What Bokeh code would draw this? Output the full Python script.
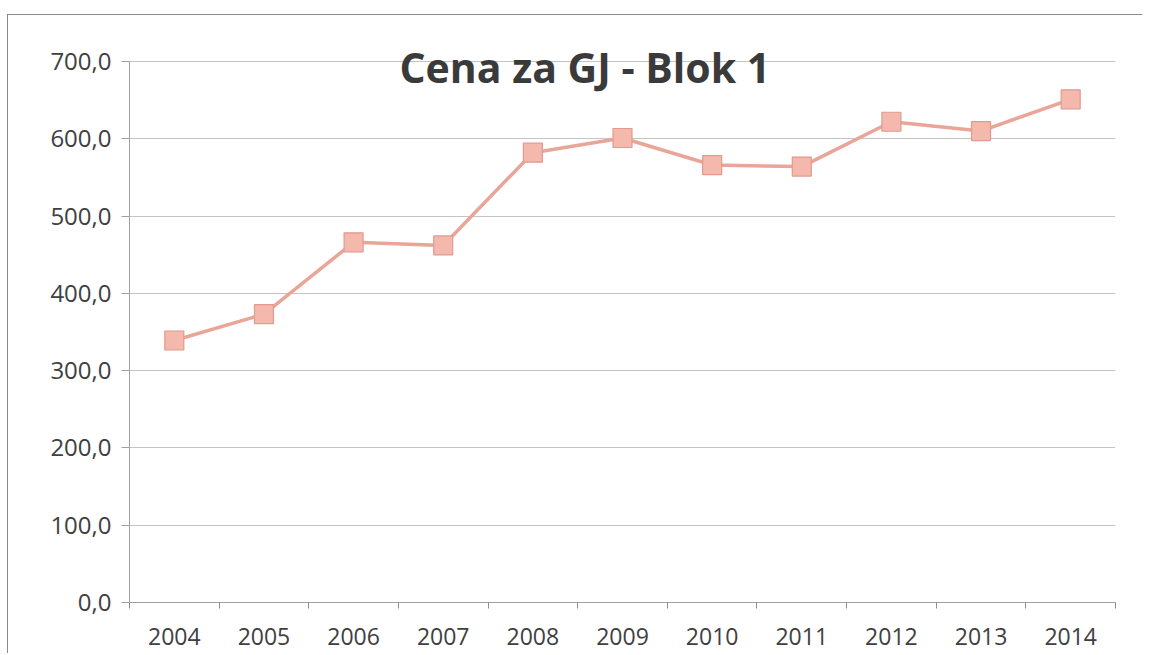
from bokeh.plotting import figure
from bokeh.models import ColumnDataSource, FixedTicker, Label
from bokeh.embed import file_html
from bokeh.resources import INLINE

years = ["2004", "2005", "2006", "2007", "2008", "2009", "2010", "2011", "2012", "2013", "2014"]
prices = [339.0, 373.0, 466.0, 462.0, 582.0, 601.0, 566.0, 564.0, 622.0, 610.0, 651.0]
y_ticks = [0, 100, 200, 300, 400, 500, 600, 700]
y_labels = ["0,0", "100,0", "200,0", "300,0", "400,0", "500,0", "600,0", "700,0"]
title_text = "Cena za GJ - Blok 1"

idx = list(range(len(years)))
src = ColumnDataSource(data=dict(x=idx, y=prices, year=years))

FONT = "Open Sans"
TXT = "#404040"

p = figure(width=1135, height=639, output_backend="svg", toolbar_location=None,
           x_range=(-0.5, len(years) - 0.5), y_range=(0, 755.6),
           min_border_left=121, min_border_top=3, min_border_right=28, min_border_bottom=52)
p.margin = (14, 0, 0, 7)
p.styles = {"border-top": "1px solid #8a8a8a", "border-left": "1px solid #8a8a8a"}
p.outline_line_color = None
p.background_fill_color = "white"
p.border_fill_color = "white"

p.xgrid.grid_line_color = None
p.ygrid.grid_line_color = "#c4c4c4"
p.ygrid.grid_line_width = 1

p.xaxis.ticker = FixedTicker(ticks=idx, minor_ticks=[i - 0.5 for i in range(len(years) + 1)])
p.xaxis.major_label_overrides = {i: y for i, y in enumerate(years)}
p.xaxis.major_tick_line_color = None
p.xaxis.minor_tick_line_color = "#8c8c8c"
p.xaxis.minor_tick_out = 6
p.xaxis.minor_tick_in = 0
p.xaxis.axis_line_color = "#a0a0a0"
p.xaxis.major_label_standoff = 19
p.xaxis.major_label_text_font = FONT
p.xaxis.major_label_text_font_size = "23px"
p.xaxis.major_label_text_color = TXT

p.yaxis.ticker = FixedTicker(ticks=y_ticks)
p.yaxis.bounds = (0, 700)
p.yaxis.major_label_overrides = {t: l for t, l in zip(y_ticks, y_labels)}
p.yaxis.minor_tick_line_color = None
p.yaxis.major_tick_line_color = "#a0a0a0"
p.yaxis.major_tick_out = 8
p.yaxis.major_tick_in = 0
p.yaxis.axis_line_color = "#a0a0a0"
p.yaxis.major_label_standoff = 10
p.yaxis.major_label_text_font = FONT
p.yaxis.major_label_text_font_size = "24px"
p.yaxis.major_label_text_color = TXT

p.line("x", "y", source=src, line_color="#e9a598", line_width=3.5)
p.scatter("x", "y", source=src, marker="square", size=19,
          fill_color="#f4b8ad", line_color="#e29a8e", line_width=1.2)

title = Label(x=4.58, y=693, text=title_text, text_align="center", text_baseline="middle",
              text_font=FONT, text_font_style="bold", text_font_size="41px", text_color="#3a3a3a")
p.add_layout(title)

open("out.html", "w").write(file_html(p, INLINE))
